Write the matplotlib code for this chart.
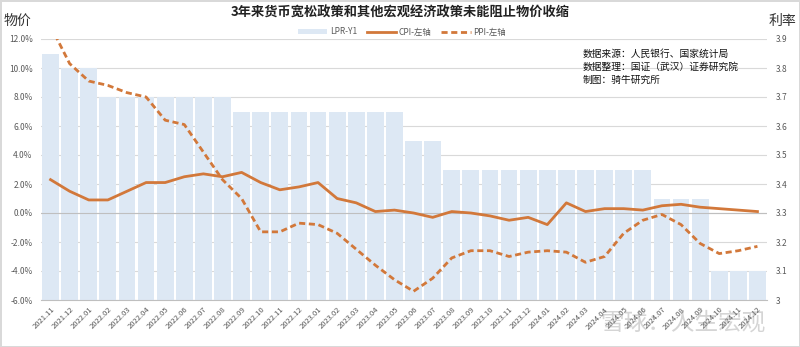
import matplotlib
matplotlib.use("Agg")
import matplotlib.pyplot as plt
import numpy as np

plt.rcParams['font.family'] = ['Noto Sans CJK SC', 'DejaVu Sans']

# months 2021.11 - 2024.12
months = ['2021.11', '2021.12'] + \
    ['2022.%02d' % m for m in range(1, 13)] + \
    ['2023.%02d' % m for m in range(1, 13)] + \
    ['2024.%02d' % m for m in range(1, 13)]

# 1Y LPR (right axis)
lpr = [3.85, 3.80, 3.80] + [3.70] * 7 + [3.65] * 9 + [3.55] * 2 + [3.45] * 11 + [3.35] * 3 + [3.10] * 3

# CPI yoy (%)
cpi = [2.3, 1.5, 0.9, 0.9, 1.5, 2.1, 2.1, 2.5, 2.7, 2.5,
       2.8, 2.1, 1.6, 1.8, 2.1, 1.0, 0.7, 0.1, 0.2, 0.0,
       -0.3, 0.1, 0.0, -0.2, -0.5, -0.3, -0.8, 0.7, 0.1, 0.3,
       0.3, 0.2, 0.5, 0.6, 0.4, 0.3, 0.2, 0.1]

# PPI yoy (%)
ppi = [12.9, 10.3, 9.1, 8.8, 8.3, 8.0, 6.4, 6.1, 4.2, 2.3,
       1.0, -1.3, -1.3, -0.7, -0.8, -1.4, -2.5, -3.6, -4.6, -5.4,
       -4.5, -3.1, -2.6, -2.6, -3.0, -2.7, -2.6, -2.7, -3.4, -3.0,
       -1.4, -0.5, -0.1, -0.8, -2.1, -2.8, -2.6, -2.3]

orange = '#d2783a'
bar_c = '#dde8f4'
grid_c = '#d9d9d9'
tick_c = '#595959'

fig = plt.figure(figsize=(8, 3.47), dpi=100)
fig.patch.set_edgecolor('#d9d9d9')
fig.patch.set_linewidth(1)

rect = [41 / 800, 1 - 300 / 347, (767 - 41) / 800, (300 - 39) / 347]
ax2 = fig.add_axes(rect)   # bars, right axis
ax = ax2.twinx()           # right tick labels
ax1 = fig.add_axes(rect)   # lines, left axis

x = np.arange(len(months))

# bars on right-hand scale
ax2.set_ylim(3.0, 3.9)
for v in np.arange(3.0, 3.95, 0.1):
    ax2.axhline(v, color=grid_c, lw=0.8, zorder=0)
ax2.bar(x, lpr, width=0.88, bottom=0, color=bar_c, zorder=1, label='LPR-Y1')
ax2.set_xlim(-0.5, len(months) - 0.5)
ax2.set_yticks([])
for s in ax2.spines.values():
    s.set_visible(False)
ax2.spines['bottom'].set_visible(True)
ax2.spines['bottom'].set_color('#bfbfbf')
ax2.set_xticks(x)
ax2.set_xticklabels(months, rotation=45, ha='right', rotation_mode='anchor',
                    fontsize=5.5, color=tick_c)
ax2.tick_params(axis='x', length=0, pad=4)

ax.set_ylim(3.0, 3.9)
ax.set_yticks(np.round(np.arange(3.0, 3.95, 0.1), 1))
ax.set_yticklabels(['3'] + ['%.1f' % v for v in np.arange(3.1, 3.95, 0.1)],
                   fontsize=6, color=tick_c)
ax.tick_params(axis='y', length=0, pad=6)
for s in ax.spines.values():
    s.set_visible(False)

# lines on left-hand scale
ax1.patch.set_visible(False)
ax1.set_xlim(-0.5, len(months) - 0.5)
ax1.set_ylim(-6, 12)
ax1.axhline(0, color='#bfbfbf', lw=0.8, zorder=1)
ax1.plot(x, cpi, color=orange, lw=2, solid_joinstyle='round', label='CPI-左轴', zorder=3)
ax1.plot(x, ppi, color=orange, lw=2, ls=(0, (2.2, 1.3)), label='PPI-左轴', zorder=3)
ax1.set_yticks(np.arange(-6, 13, 2))
ax1.set_yticklabels(['%.1f%%' % v for v in np.arange(-6, 13, 2)], fontsize=6, color=tick_c)
ax1.tick_params(axis='y', length=0, pad=6)
ax1.set_xticks([])
for s in ax1.spines.values():
    s.set_visible(False)

# texts
fig.text(0.5, 1 - 13 / 347, '3年来货币宽松政策和其他宏观经济政策未能阻止物价收缩',
         ha='center', va='center', fontsize=9.5, fontweight='bold', color='#222222')
fig.text(4 / 800, 1 - 21 / 347, '物价', ha='left', va='center', fontsize=10, color='#333333')
fig.text(796 / 800, 1 - 21 / 347, '利率', ha='right', va='center', fontsize=10, color='#333333')

notes = ['数据来源：人民银行、国家统计局', '数据整理：国证（武汉）证券研究院', '制图：骑牛研究所']
for i, t in enumerate(notes):
    fig.text(583 / 800, 1 - (54 + 13 * i) / 347, t, ha='left', va='center',
             fontsize=7, color='#111111')

h2, l2 = ax2.get_legend_handles_labels()
h1, l1 = ax1.get_legend_handles_labels()
fig.legend(h2 + h1, l2 + l1, loc='center', bbox_to_anchor=(402 / 800, 1 - 32 / 347),
           ncol=3, frameon=False, fontsize=6, labelcolor=tick_c,
           handlelength=3.5, handleheight=0.4, columnspacing=1.2, handletextpad=0.3)

fig.text(683 / 800, 1 - 323 / 347, '雪球：人生宏观', ha='center', va='center',
         fontsize=17, color='#888888', alpha=0.35)

fig.savefig('out.png', dpi=100)
